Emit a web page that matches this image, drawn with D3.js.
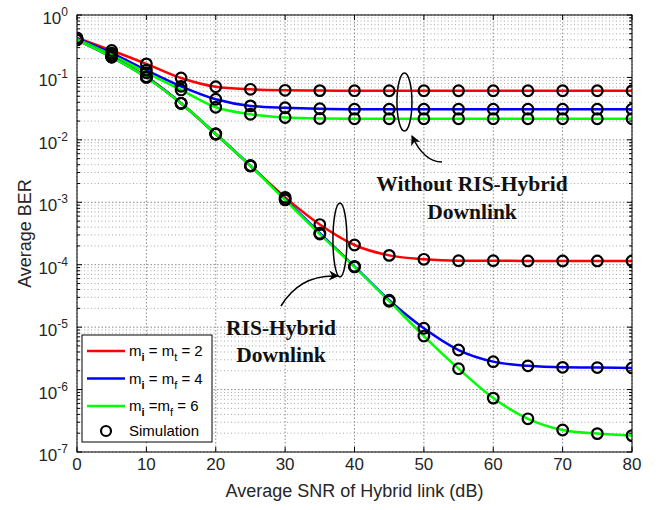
<!DOCTYPE html>
<html>
<head>
<meta charset="utf-8">
<script src="https://cdn.jsdelivr.net/npm/d3@7"></script>
<style>
body { margin: 0; background: #fff; }
text { font-family: Arial, "Liberation Sans", sans-serif; }
</style>
</head>
<body>
<script>
var width = 665
var height = 510
var margin = { left: 77, top: 15, right: 33, bottom: 58 }

var snr = [0, 5, 10, 15, 20, 25, 30, 35, 40, 45, 50, 55, 60, 65, 70, 75, 80]
var withoutM2 = [0.43, 0.27, 0.165, 0.098, 0.071, 0.0645, 0.0622, 0.0615, 0.0613, 0.0612, 0.0612, 0.0612, 0.0612, 0.0612, 0.0612, 0.0612, 0.0612]
var withoutM4 = [0.42, 0.245, 0.131, 0.072, 0.0447, 0.035, 0.0327, 0.0315, 0.031, 0.031, 0.031, 0.031, 0.031, 0.031, 0.031, 0.031, 0.031]
var withoutM6 = [0.41, 0.228, 0.119, 0.063, 0.0333, 0.0257, 0.0228, 0.022, 0.0218, 0.0218, 0.0218, 0.0218, 0.0218, 0.0218, 0.0218, 0.0218, 0.0218]
var risM2 = [0.4, 0.212, 0.102, 0.0385, 0.0124, 0.00385, 0.0012, 0.00044, 0.000207, 0.000141, 0.000122, 0.000116, 0.000116, 0.000115, 0.000115, 0.000115, 0.000115]
var risM4 = [0.4, 0.212, 0.101, 0.0385, 0.0124, 0.00385, 0.00112, 0.00032, 0.000094, 0.000027, 0.0000096, 0.0000043, 0.0000028, 0.0000024, 0.00000227, 0.00000225, 0.00000222]
var risM6 = [0.4, 0.212, 0.1, 0.0385, 0.0124, 0.00383, 0.00109, 0.00031, 0.000092, 0.000026, 0.0000072, 0.00000216, 0.00000073, 0.00000034, 0.000000225, 0.000000197, 0.000000183]

var xTicks = [0, 10, 20, 30, 40, 50, 60, 70, 80]
var yExponents = [0, -1, -2, -3, -4, -5, -6, -7]
var colors = ['#ff0000', '#0000ff', '#00ff00']
var legendSubs = ['t', 'f', 'f']
var legendEq = [' = m', ' = m', ' =m']
var legendM = ['2', '4', '6']

var series = [
    { values: withoutM2, color: colors[0] },
    { values: withoutM4, color: colors[1] },
    { values: withoutM6, color: colors[2] },
    { values: risM2, color: colors[0] },
    { values: risM4, color: colors[1] },
    { values: risM6, color: colors[2] }
]

var svg = d3.select('body').append('svg').attr('width', width).attr('height', height)

var xScale = d3.scaleLinear().domain([0, 80]).range([margin.left, width - margin.right])
var yScale = d3.scaleLog().domain([1e-7, 1]).range([height - margin.bottom, margin.top])
var x0 = xScale.range()[0], x1 = xScale.range()[1]
var y0 = yScale.range()[0], y1 = yScale.range()[1]

svg.append('defs').append('clipPath').attr('id', 'plot')
    .append('rect').attr('x', x0).attr('y', y1).attr('width', x1 - x0).attr('height', y0 - y1)

// grid
var minor = []
yExponents.slice(0, -1).forEach(e => {
    for (var k = 2; k <= 9; k++) minor.push(k * Math.pow(10, e - 1))
})
var grid = svg.append('g')
grid.selectAll('.minor').data(minor).enter().append('line')
    .attr('x1', x0).attr('x2', x1).attr('y1', d => yScale(d)).attr('y2', d => yScale(d))
    .attr('stroke', '#a8a8a8').attr('stroke-dasharray', '1,2.5')
grid.selectAll('.major').data(yExponents).enter().append('line')
    .attr('x1', x0).attr('x2', x1).attr('y1', d => yScale(Math.pow(10, d))).attr('y2', d => yScale(Math.pow(10, d)))
    .attr('stroke', '#8a8a8a').attr('stroke-dasharray', '1.5,2')
grid.selectAll('.vert').data(xTicks).enter().append('line')
    .attr('x1', d => xScale(d)).attr('x2', d => xScale(d)).attr('y1', y1).attr('y2', y0)
    .attr('stroke', '#8a8a8a').attr('stroke-dasharray', '1.5,2')

// ticks inside the box
var ticks = svg.append('g').attr('stroke', '#000')
xTicks.forEach(d => {
    ticks.append('line').attr('x1', xScale(d)).attr('x2', xScale(d)).attr('y1', y0).attr('y2', y0 - 5)
    ticks.append('line').attr('x1', xScale(d)).attr('x2', xScale(d)).attr('y1', y1).attr('y2', y1 + 5)
})
yExponents.forEach(e => {
    var y = yScale(Math.pow(10, e))
    ticks.append('line').attr('x1', x0).attr('x2', x0 + 5).attr('y1', y).attr('y2', y)
    ticks.append('line').attr('x1', x1).attr('x2', x1 - 5).attr('y1', y).attr('y2', y)
})
minor.forEach(d => {
    var y = yScale(d)
    ticks.append('line').attr('x1', x0).attr('x2', x0 + 3).attr('y1', y).attr('y2', y)
    ticks.append('line').attr('x1', x1).attr('x2', x1 - 3).attr('y1', y).attr('y2', y)
})

// curves
var line = d3.line().x((d, i) => xScale(snr[i])).y(d => yScale(d)).curve(d3.curveMonotoneX)
var plot = svg.append('g').attr('clip-path', 'url(#plot)')
plot.selectAll('path').data(series).enter().append('path')
    .attr('d', d => line(d.values)).attr('fill', 'none').attr('stroke', d => d.color).attr('stroke-width', 2.5)

series.forEach(s => {
    plot.append('g').selectAll('circle').data(s.values).enter().append('circle')
        .attr('cx', (d, i) => xScale(snr[i])).attr('cy', d => yScale(d)).attr('r', 5.3)
        .attr('fill', 'none').attr('stroke', '#000').attr('stroke-width', 2.2)
})

svg.append('rect').attr('x', x0).attr('y', y1).attr('width', x1 - x0).attr('height', y0 - y1)
    .attr('fill', 'none').attr('stroke', '#000').attr('stroke-width', 1)

// tick labels
svg.append('g').selectAll('text').data(xTicks).enter().append('text')
    .attr('x', d => xScale(d)).attr('y', y0 + 18).attr('text-anchor', 'middle')
    .attr('font-size', 17).attr('fill', '#262626').text(d => d)

var yl = svg.append('g').selectAll('text').data(yExponents).enter().append('text')
    .attr('x', x0 - 9).attr('y', d => yScale(Math.pow(10, d)) + 9).attr('text-anchor', 'end')
    .attr('font-size', 17).attr('fill', '#262626')
yl.append('tspan').text('10')
yl.append('tspan').attr('dy', -8).attr('font-size', 12).text(d => d === 0 ? '0' : '-' + Math.abs(d))

svg.append('text').attr('x', (x0 + x1) / 2).attr('y', 497).attr('text-anchor', 'middle')
    .attr('font-size', 18).attr('fill', '#262626').text('Average SNR of Hybrid link (dB)')
svg.append('text').attr('transform', `translate(31,${(y0 + y1) / 2}) rotate(-90)`).attr('text-anchor', 'middle')
    .attr('font-size', 18).attr('fill', '#262626').text('Average BER')

// annotations
svg.select('defs').append('marker').attr('id', 'arrow').attr('viewBox', '0 0 10 10')
    .attr('refX', 9).attr('refY', 5).attr('markerWidth', 14).attr('markerHeight', 10)
    .attr('markerUnits', 'userSpaceOnUse').attr('orient', 'auto')
    .append('path').attr('d', 'M0,0L10,5L0,10L3,5Z').attr('fill', '#000')

var note = svg.append('g')
note.append('ellipse').attr('cx', xScale(47.2)).attr('cy', 102).attr('rx', 7.5).attr('ry', 29)
    .attr('fill', 'none').attr('stroke', '#000').attr('stroke-width', 1.5)
note.append('ellipse').attr('cx', xScale(37.9)).attr('cy', 240).attr('rx', 7).attr('ry', 37)
    .attr('fill', 'none').attr('stroke', '#000').attr('stroke-width', 1.5)
note.append('path').attr('d', 'M442,162 Q424,162 412,136').attr('fill', 'none')
    .attr('stroke', '#000').attr('stroke-width', 1.5).attr('marker-end', 'url(#arrow)')
note.append('path').attr('d', 'M281,306 Q300,274 338,276').attr('fill', 'none')
    .attr('stroke', '#000').attr('stroke-width', 1.5).attr('marker-end', 'url(#arrow)')

var notes = [
    { text: 'Without RIS-Hybrid', x: 472, y: 191 },
    { text: 'Downlink', x: 472, y: 219 },
    { text: 'RIS-Hybrid', x: 281, y: 335 },
    { text: 'Downlink', x: 281, y: 362 }
]
note.selectAll('text').data(notes).enter().append('text')
    .attr('x', d => d.x).attr('y', d => d.y).attr('text-anchor', 'middle')
    .style('font-family', '"Liberation Serif", "Times New Roman", serif')
    .style('font-weight', 'bold').style('font-size', '21.5px').attr('fill', '#111').text(d => d.text)

// legend
var legend = svg.append('g')
legend.append('rect').attr('x', 82).attr('y', 335).attr('width', 130).attr('height', 107)
    .attr('fill', '#fff').attr('stroke', '#000').attr('stroke-width', 1)
colors.forEach((c, i) => {
    var y = 351 + i * 27.5
    legend.append('line').attr('x1', 87).attr('x2', 125).attr('y1', y).attr('y2', y)
        .attr('stroke', c).attr('stroke-width', 2.5)
    var t = legend.append('text').attr('x', 129).attr('y', y + 5).attr('font-size', 15).attr('fill', '#000')
    t.append('tspan').text('m')
    t.append('tspan').attr('dy', 5).attr('font-size', 11).attr('font-weight', 'bold').text('i')
    t.append('tspan').attr('dy', -5).text(legendEq[i])
    t.append('tspan').attr('dy', 5).attr('font-size', 11).text(legendSubs[i])
    t.append('tspan').attr('dy', -5).text(' = ' + legendM[i])
})
legend.append('circle').attr('cx', 106).attr('cy', 431).attr('r', 5)
    .attr('fill', 'none').attr('stroke', '#000').attr('stroke-width', 2.2)
legend.append('text').attr('x', 129).attr('y', 436).attr('font-size', 15).text('Simulation')
</script>
</body>
</html>
